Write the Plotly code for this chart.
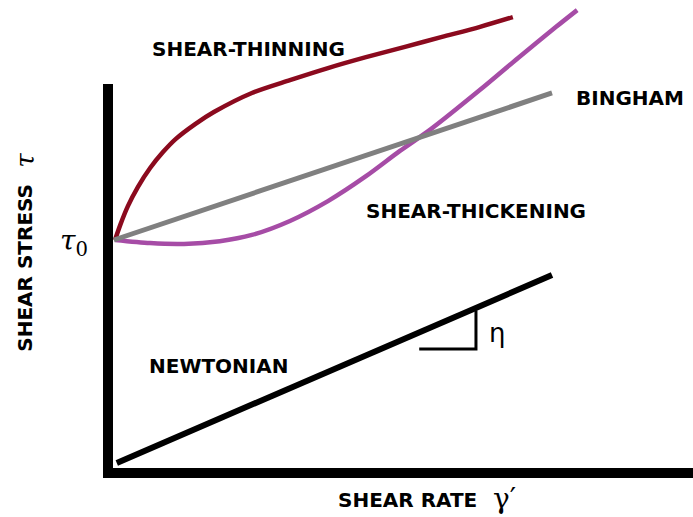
import plotly.graph_objects as go

# rheology curves (arbitrary units, axes 0..10)
thinning_x = [0.12, 0.21, 0.34, 0.51, 0.72, 0.94, 1.16, 1.49, 1.81, 2.46, 3.11, 3.76, 4.41, 5.06, 5.71, 6.36, 6.92]
thinning_y = [5.99, 6.38, 6.86, 7.35, 7.84, 8.25, 8.59, 8.97, 9.28, 9.77, 10.10, 10.41, 10.69, 10.95, 11.21, 11.47, 11.72]

thickening_x = [0.12, 0.72, 1.30, 1.91, 2.46, 3.11, 3.76, 4.41, 4.99, 5.52, 6.36, 7.01, 7.66, 8.02]
thickening_y = [5.99, 5.91, 5.89, 5.96, 6.12, 6.48, 6.99, 7.63, 8.28, 8.84, 9.85, 10.67, 11.47, 11.90]

bingham_x = [0.10, 7.59]
bingham_y = [5.99, 9.77]

newton_x = [0.15, 7.59]
newton_y = [0.26, 5.09]

slope_x = [5.32, 6.29, 6.29]
slope_y = [3.19, 3.19, 4.18]

AXIS_TOP = 10.0
Y_MAX = 12.16
X_MAX = 10.0

fig = go.Figure()
fig.add_trace(go.Scatter(x=thinning_x, y=thinning_y, mode="lines",
                         line={"color": "#8b0a1e", "width": 4.5, "shape": "spline", "smoothing": 0.8}))
fig.add_trace(go.Scatter(x=thickening_x, y=thickening_y, mode="lines",
                         line={"color": "#a64ca6", "width": 4.5, "shape": "spline", "smoothing": 0.8}))
fig.add_trace(go.Scatter(x=bingham_x, y=bingham_y, mode="lines",
                         line={"color": "#808080", "width": 5}))
fig.add_trace(go.Scatter(x=newton_x, y=newton_y, mode="lines",
                         line={"color": "black", "width": 6}))
fig.add_trace(go.Scatter(x=slope_x, y=slope_y, mode="lines",
                         line={"color": "black", "width": 3}))

# axes drawn as thick black lines
fig.add_shape(type="line", xref="paper", yref="paper", x0=0, x1=0,
              y0=-5 / 473, y1=AXIS_TOP / Y_MAX, line={"color": "black", "width": 10})
fig.add_shape(type="line", xref="paper", yref="paper", x0=-5 / 585, x1=1,
              y0=0, y1=0, line={"color": "black", "width": 10})

label_font = {"family": "DejaVu Sans", "size": 20, "color": "black"}
serif = {"family": "DejaVu Serif", "size": 26, "color": "black"}


def label(text, x, y, font, ref="data", angle=0):
    kw = {"xref": "paper", "yref": "paper"} if ref == "paper" else {}
    fig.add_annotation(text=text, x=x, y=y, showarrow=False, font=font, textangle=angle,
                       xanchor="center", yanchor="middle", **kw)


for txt, x, y in [
    ("SHEAR-THINNING", 2.41, 10.90),
    ("BINGHAM", 8.92, 9.63),
    ("SHEAR-THICKENING", 6.29, 6.74),
    ("NEWTONIAN", 1.90, 2.75),
]:
    label(f"<b>{txt}</b>", x, y, label_font)

label("η", 6.65, 3.60, {"family": "DejaVu Sans", "size": 26, "color": "black"})

# outside labels
label("<b>SHEAR RATE</b>", 0.512, -0.058, label_font, ref="paper")
label("γ′", 0.678, -0.054, {"family": "DejaVu Serif", "size": 28, "color": "black"}, ref="paper")
label("<b>SHEAR STRESS</b>", -0.141, 0.433, label_font, ref="paper", angle=-90)
label("<i>τ</i>", -0.142, 0.662, serif, ref="paper", angle=-90)
label("<i>τ</i><sub>0</sub>", -0.058, 0.488, {"family": "DejaVu Serif", "size": 28, "color": "black"},
      ref="paper")

fig.update_layout(
    width=693, height=517,
    margin={"l": 108, "r": 0, "t": 0, "b": 44},
    showlegend=False,
    plot_bgcolor="white", paper_bgcolor="white",
    xaxis={"range": [0, X_MAX], "visible": False},
    yaxis={"range": [0, Y_MAX], "visible": False},
)
fig.write_html("out.html", config={"displayModeBar": False},
               post_script="document.body.style.margin='0';")
